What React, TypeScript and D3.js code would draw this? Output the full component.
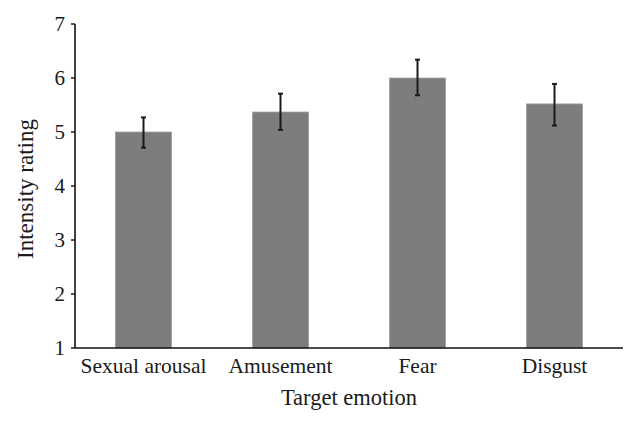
import React from "react";
import * as d3 from "d3";

const categories = ["Sexual arousal", "Amusement", "Fear", "Disgust"];
const means = [5.0, 5.37, 6.0, 5.52];
const errUp = [0.27, 0.34, 0.34, 0.37];
const errDown = [0.29, 0.33, 0.32, 0.4];
const yTicks = [1, 2, 3, 4, 5, 6, 7];
const xTitle = "Target emotion";
const yTitle = "Intensity rating";

const W = 637;
const H = 425;
const margin = { left: 75, right: 14, top: 24, bottom: 77 };
const FONT = "'Liberation Serif', 'Times New Roman', serif";

export default function App() {
  const x = d3
    .scaleBand<string>()
    .domain(categories)
    .range([margin.left, W - margin.right])
    .paddingInner(0.59)
    .paddingOuter(0.295);
  const y = d3.scaleLinear().domain([1, 7]).range([H - margin.bottom, margin.top]);
  const bw = x.bandwidth();
  const capW = 5;

  return (
    <svg
      width={W}
      height={H}
      style={{ position: "absolute", left: 0, top: 0, background: "#fff" }}
      fontFamily={FONT}
    >
      {categories.map((c, i) => {
        const x0 = x(c)!;
        const cx = x0 + bw / 2;
        const top = y(means[i] + errUp[i]);
        const bot = y(means[i] - errDown[i]);
        return (
          <g key={c}>
            <rect
              x={x0}
              y={y(means[i])}
              width={bw}
              height={y(1) - y(means[i])}
              fill="#7d7d7d"
              stroke="#9aa3a3"
              strokeWidth={0.8}
            />
            <line x1={cx} x2={cx} y1={top} y2={bot} stroke="#1a1a1a" strokeWidth={2} />
            <line x1={cx - capW / 2} x2={cx + capW / 2} y1={top} y2={top} stroke="#1a1a1a" strokeWidth={2} />
            <line x1={cx - capW / 2} x2={cx + capW / 2} y1={bot} y2={bot} stroke="#1a1a1a" strokeWidth={2} />
            <text x={cx} y={373} textAnchor="middle" fontSize={21.5} fill="#1a1a1a">
              {c}
            </text>
          </g>
        );
      })}
      {/* y axis */}
      <line x1={margin.left} x2={margin.left} y1={y(7)} y2={y(1)} stroke="#111" strokeWidth={1.6} />
      {yTicks.map((t) => (
        <g key={t}>
          <line x1={margin.left - 4} x2={margin.left} y1={y(t)} y2={y(t)} stroke="#111" strokeWidth={1.4} />
          <text x={65} y={y(t)} dy="0.35em" textAnchor="end" fontSize={21} fill="#1a1a1a">
            {t}
          </text>
        </g>
      ))}
      {/* x axis */}
      <line x1={margin.left} x2={W - margin.right} y1={y(1)} y2={y(1)} stroke="#111" strokeWidth={1.6} />
      <text x={(margin.left + W - margin.right) / 2} y={405} textAnchor="middle" fontSize={22.5} fill="#1a1a1a">
        {xTitle}
      </text>
      <text
        transform={`translate(33, ${(y(1) + y(7)) / 2 + 3}) rotate(-90)`}
        textAnchor="middle"
        fontSize={23}
        fill="#1a1a1a"
      >
        {yTitle}
      </text>
    </svg>
  );
}
